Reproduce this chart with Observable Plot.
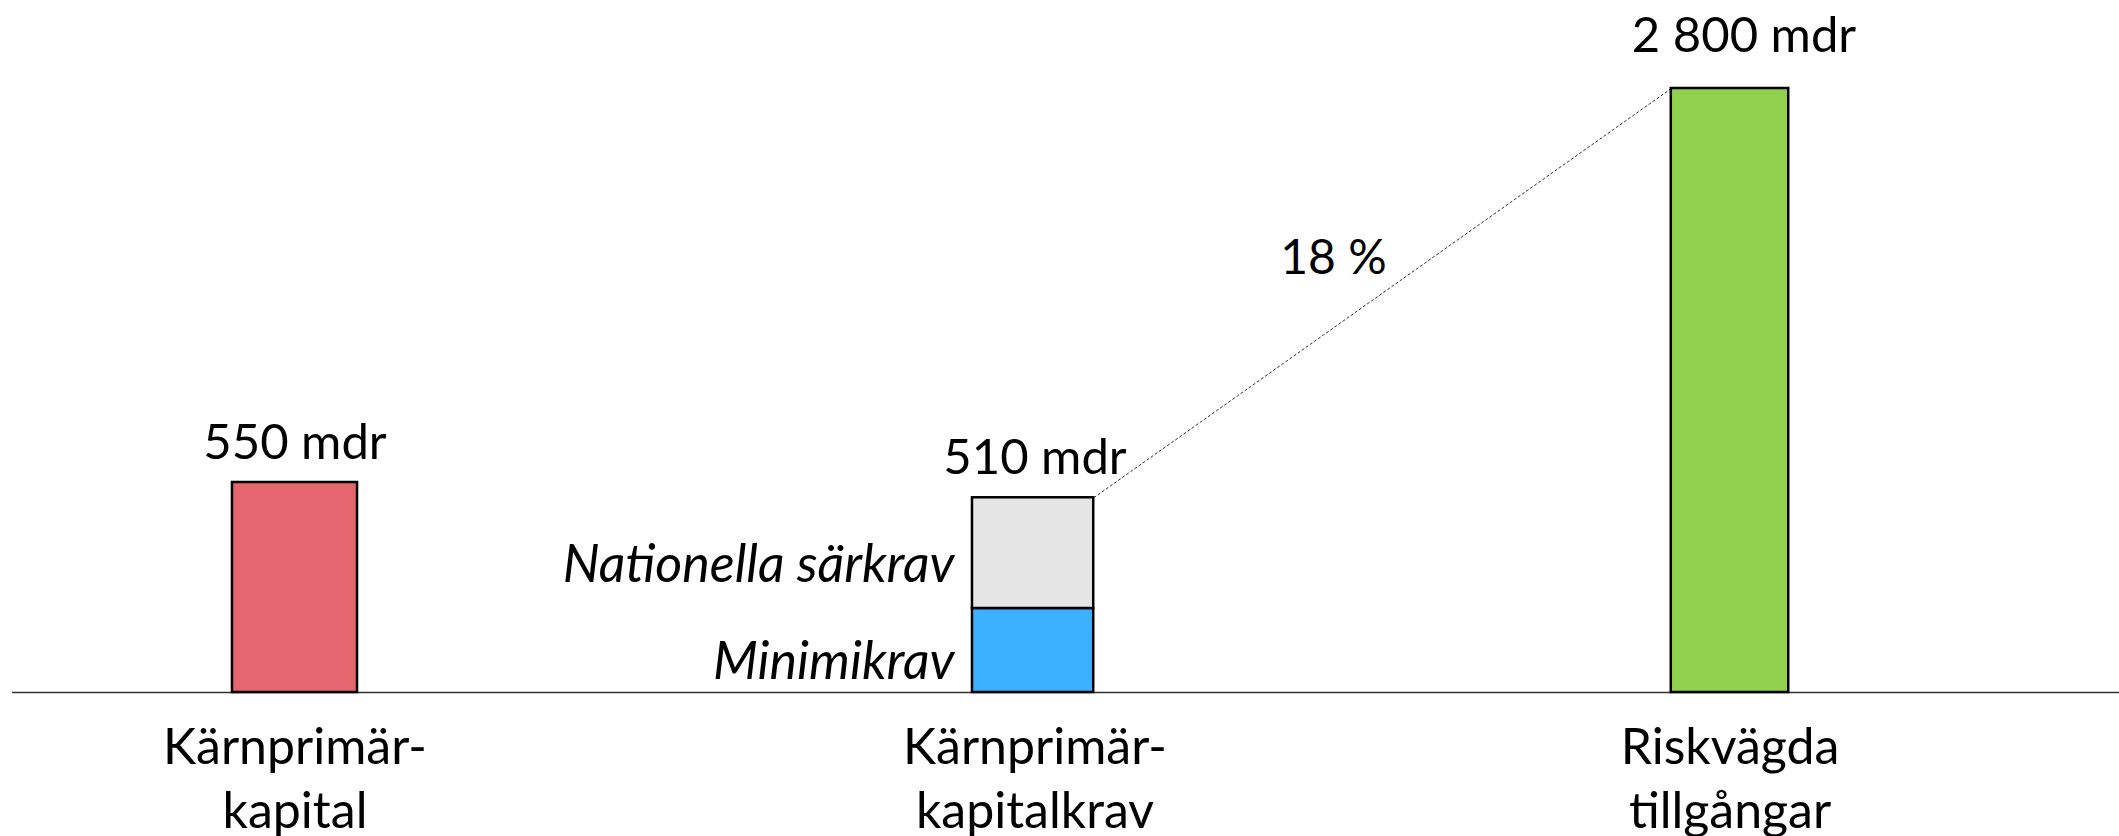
<!DOCTYPE html>
<html>
<head>
<meta charset="utf-8">
<script src="https://cdn.jsdelivr.net/npm/d3@7"></script>
<script src="https://cdn.jsdelivr.net/npm/@observablehq/plot@0.6"></script>
<style>
  html, body { margin: 0; padding: 0; background: #fff; }
  #chart svg { display: block; font-family: Lato, "Open Sans", sans-serif; }
</style>
</head>
<body>
<div id="chart"></div>
<script>
// ---- data ----
const categories = ["Kärnprimär-\nkapital", "Kärnprimär-\nkapitalkrav", "Riskvägda\ntillgångar"];
const totals = [550, 510, 2800];              // mdr
const totalLabels = ["550 mdr", "510 mdr", "2 800 mdr"];
const reqParts = ["Minimikrav", "Nationella särkrav"];
const reqValues = [220, 290];                  // mdr, sums to 510

// ---- styles ----
const barFill = ["#E5666F", null, "#92D050"];
const partFill = ["#3BB1FF", "#E5E5E5"];
const halfW = 0.0845; // half bar width in category units

const single = [0, 2].map(i => ({i, value: totals[i], fill: barFill[i]}));
const ends = d3.cumsum(reqValues);
const parts = reqParts.map((name, k) => ({
  i: 1, name, y1: ends[k] - reqValues[k], y2: ends[k], fill: partFill[k]
}));
const labels = totals.map((v, i) => ({i, value: v, label: totalLabels[i]}));
const ratioLabel = Math.round(totals[1] / totals[2] * 100) + " %";

const chart = Plot.plot({
  width: 2119,
  height: 836,
  marginLeft: 12,
  marginRight: 0,
  marginTop: 0,
  marginBottom: 0,
  style: {fontFamily: "Lato, 'Open Sans', sans-serif", background: "#fff"},
  x: {type: "linear", domain: [0, 1, 2], range: [294.5, 1034.5, 1729.5], axis: null},
  y: {type: "linear", domain: [0, 550, 2800], range: [692, 482, 88], axis: null},
  marks: [
    Plot.link([{a: totals[1], b: totals[2]}], {
      x1: () => 1 + halfW, y1: "a", x2: () => 2 - halfW, y2: "b",
      stroke: "#333", strokeWidth: 1, strokeDasharray: "3,2"
    }),
    Plot.ruleY([0], {stroke: "#333", strokeWidth: 1.5}),
    Plot.rect(single, {
      x1: d => d.i - halfW, x2: d => d.i + halfW, y1: 0, y2: "value",
      fill: d => d.fill, stroke: "#000", strokeWidth: 2.5
    }),
    Plot.rect(parts, {
      x1: d => d.i - halfW, x2: d => d.i + halfW, y1: "y1", y2: "y2",
      fill: d => d.fill, stroke: "#000", strokeWidth: 2.5
    }),
    Plot.text(parts, {
      x: d => d.i - halfW, y: d => (d.y1 + d.y2) / 2, text: "name",
      textAnchor: "end", lineAnchor: "middle", dx: -18, dy: 12,
      fontSize: 52, fontStyle: "italic", fill: "#000"
    }),
    Plot.text(labels.filter(d => d.i < 2), {
      x: "i", y: "value", text: "label", lineAnchor: "bottom", dy: -24,
      fontSize: 49, fill: "#000"
    }),
    Plot.text(labels.filter(d => d.i === 2), {
      x: "i", y: "value", text: "label", lineAnchor: "bottom", dy: -37, dx: 14,
      fontSize: 49, fill: "#000"
    }),
    Plot.text([{x: 1.5, y: (totals[1] + totals[2]) / 2, t: ratioLabel}], {
      x: "x", y: "y", text: "t", lineAnchor: "bottom", dx: -49, dy: -15,
      fontSize: 48, fill: "#000"
    }),
    Plot.text(categories.map((c, i) => ({i, c})), {
      x: "i", y: () => 0, text: "c", lineAnchor: "top", dy: 26,
      lineHeight: 1.28, fontSize: 50, fill: "#000"
    })
  ]
});
document.getElementById("chart").appendChild(chart);
</script>
</body>
</html>
